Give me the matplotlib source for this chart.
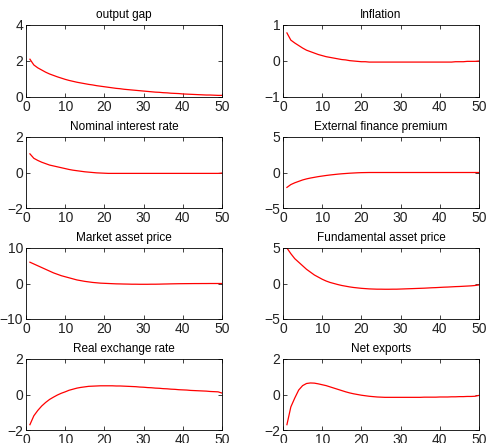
import matplotlib
matplotlib.use("Agg")
import matplotlib.pyplot as plt
import numpy as np

periods = list(range(1, 51))

titles = ["output gap", "Inflation", "Nominal interest rate", "External finance premium",
          "Market asset price", "Fundamental asset price", "Real exchange rate", "Net exports"]

output_gap = [2.10, 1.78, 1.62, 1.50, 1.38, 1.28, 1.20, 1.12, 1.05, 0.98,
              0.92, 0.87, 0.82, 0.78, 0.74, 0.70, 0.67, 0.63, 0.60, 0.57,
              0.54, 0.51, 0.48, 0.46, 0.43, 0.41, 0.39, 0.37, 0.35, 0.33,
              0.31, 0.29, 0.27, 0.26, 0.24, 0.23, 0.21, 0.20, 0.19, 0.17,
              0.16, 0.15, 0.14, 0.13, 0.12, 0.11, 0.11, 0.10, 0.09, 0.09]

inflation = [0.78, 0.58, 0.50, 0.43, 0.36, 0.30, 0.26, 0.22, 0.18, 0.15,
             0.12, 0.10, 0.08, 0.06, 0.04, 0.03, 0.01, 0.00, -0.01, -0.02,
             -0.02, -0.03, -0.03, -0.03, -0.03, -0.03, -0.03, -0.03, -0.03, -0.03,
             -0.03, -0.03, -0.03, -0.03, -0.03, -0.03, -0.03, -0.03, -0.03, -0.03,
             -0.03, -0.03, -0.03, -0.02, -0.02, -0.02, -0.01, -0.01, -0.01, 0.00]

nominal_rate = [1.05, 0.80, 0.68, 0.58, 0.50, 0.42, 0.37, 0.32, 0.27, 0.22,
                0.17, 0.13, 0.10, 0.07, 0.04, 0.02, 0.00, -0.02, -0.03, -0.04,
                -0.05, -0.05, -0.05, -0.05, -0.05, -0.05, -0.05, -0.05, -0.05, -0.05,
                -0.05, -0.05, -0.05, -0.05, -0.05, -0.05, -0.05, -0.05, -0.05, -0.05,
                -0.05, -0.05, -0.05, -0.05, -0.05, -0.05, -0.05, -0.05, -0.05, -0.03]

ext_premium = [-2.10, -1.70, -1.45, -1.25, -1.05, -0.90, -0.78, -0.68, -0.58, -0.50,
               -0.42, -0.35, -0.29, -0.23, -0.18, -0.14, -0.10, -0.07, -0.04, -0.02,
               -0.01, 0.00, 0.00, 0.00, 0.00, 0.00, 0.00, 0.00, 0.00, 0.00,
               0.00, 0.00, 0.00, 0.00, 0.00, 0.00, 0.00, 0.00, 0.00, 0.00,
               0.00, 0.00, 0.00, 0.00, 0.00, 0.00, 0.00, 0.00, 0.00, 0.00]

market_price = [6.0, 5.5, 5.0, 4.5, 4.0, 3.5, 3.0, 2.6, 2.2, 1.9,
                1.6, 1.3, 1.0, 0.8, 0.6, 0.45, 0.3, 0.2, 0.1, 0.05,
                0.0, -0.05, -0.1, -0.12, -0.15, -0.17, -0.2, -0.2, -0.22, -0.22,
                -0.22, -0.2, -0.2, -0.18, -0.15, -0.13, -0.1, -0.08, -0.06, -0.05,
                -0.04, -0.03, -0.02, -0.02, -0.01, -0.01, 0.0, 0.0, 0.0, 0.0]

fundamental_price = [5.0, 4.2, 3.5, 3.0, 2.5, 2.0, 1.6, 1.2, 0.9, 0.6,
                     0.35, 0.15, 0.0, -0.15, -0.28, -0.38, -0.48, -0.56, -0.62, -0.68,
                     -0.72, -0.76, -0.78, -0.80, -0.80, -0.81, -0.81, -0.80, -0.80, -0.78,
                     -0.76, -0.74, -0.72, -0.70, -0.68, -0.66, -0.63, -0.60, -0.58, -0.55,
                     -0.52, -0.50, -0.47, -0.44, -0.42, -0.39, -0.36, -0.33, -0.28, -0.20]

real_exchange = [-1.70, -1.20, -0.90, -0.65, -0.45, -0.28, -0.15, -0.03, 0.07, 0.15,
                 0.24, 0.30, 0.36, 0.40, 0.43, 0.46, 0.47, 0.48, 0.49, 0.49,
                 0.49, 0.49, 0.48, 0.48, 0.47, 0.46, 0.45, 0.44, 0.42, 0.41,
                 0.39, 0.38, 0.36, 0.35, 0.33, 0.32, 0.30, 0.29, 0.27, 0.26,
                 0.25, 0.23, 0.22, 0.21, 0.20, 0.19, 0.17, 0.16, 0.15, 0.08]

net_exports = [-1.70, -0.70, -0.20, 0.25, 0.50, 0.62, 0.65, 0.64, 0.60, 0.55,
               0.50, 0.43, 0.36, 0.29, 0.22, 0.15, 0.09, 0.04, 0.00, -0.04,
               -0.07, -0.10, -0.12, -0.14, -0.15, -0.16, -0.16, -0.16, -0.16, -0.16,
               -0.16, -0.16, -0.16, -0.16, -0.16, -0.15, -0.15, -0.15, -0.15, -0.14,
               -0.14, -0.14, -0.13, -0.13, -0.12, -0.12, -0.11, -0.11, -0.10, -0.05]

series = [output_gap, inflation, nominal_rate, ext_premium,
          market_price, fundamental_price, real_exchange, net_exports]

ylims = [(0, 4), (-1, 1), (-2, 2), (-5, 5), (-10, 10), (-5, 5), (-2, 2), (-2, 2)]
yticks = [[0, 2, 4], [-1, 0, 1], [-2, 0, 2], [-5, 0, 5],
          [-10, 0, 10], [-5, 0, 5], [-2, 0, 2], [-2, 0, 2]]
xticks = [0, 10, 20, 30, 40, 50]

plt.rcParams['font.family'] = ['Liberation Sans', 'DejaVu Sans']

W, H = 486, 443
fig = plt.figure(figsize=(W / 100, H / 100), dpi=100)

col_x = [26, 283]
ax_w = 196
rows = [(25, 97), (137, 208), (248, 319), (359, 430)]

for i, (title, data) in enumerate(zip(titles, series)):
    r, c = divmod(i, 2)
    top, bot = rows[r]
    ax = fig.add_axes([col_x[c] / W, 1 - bot / H, ax_w / W, (bot - top) / H])
    ax.plot(periods, data, color='#ff0000', linewidth=0.9)
    ax.set_xlim(0, 50)
    ax.set_ylim(*ylims[i])
    ax.set_xticks(xticks)
    ax.set_yticks(yticks[i])
    ax.tick_params(direction='in', top=True, right=True, length=3, width=0.6,
                   labelsize=10, pad=2, colors='#222222')
    for s in ax.spines.values():
        s.set_linewidth(0.6)
    ax.set_title(title, fontsize=8.5, pad=5)

fig.savefig("out.png", dpi=100)
